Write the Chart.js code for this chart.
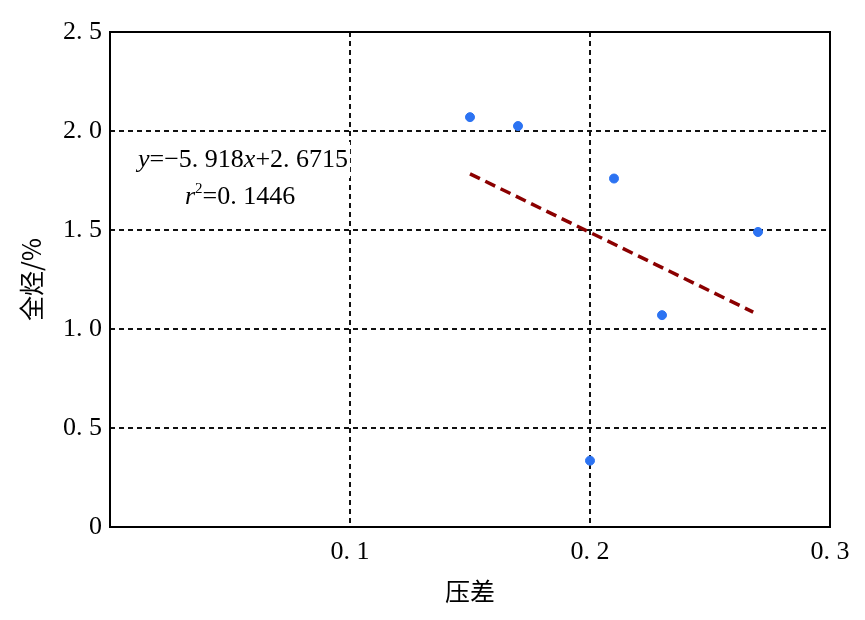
<!DOCTYPE html>
<html>
<head>
<meta charset="utf-8">
<script src="https://cdn.jsdelivr.net/npm/chart.js@4.4.1/dist/chart.umd.min.js"></script>
<style>
  html, body { margin: 0; padding: 0; background: #fff; }
  #wrap { width: 865px; height: 620px; }
</style>
</head>
<body>
<div id="wrap"><canvas id="chart" width="865" height="620"></canvas></div>
<script>
// 压差 vs 全烃 samples
const pressureDiff = [0.15, 0.17, 0.21, 0.27, 0.23, 0.20];
const totalHydrocarbon = [2.07, 2.025, 1.76, 1.49, 1.07, 0.335];
// fitted line y = -5.918x + 2.6715, drawn over the data range
const fitSlope = -5.918;
const fitIntercept = 2.6715;
const fitRange = [0.15, 0.268];
const xTicks = [0, 0.1, 0.2, 0.3];
const yTicks = [0, 0.5, 1.0, 1.5, 2.0, 2.5];

const serif = '"Liberation Serif", "DejaVu Serif", serif';
const cjk = '"Noto Sans CJK SC", sans-serif';

const scatterPoints = pressureDiff.map((x, i) => ({ x, y: totalHydrocarbon[i] }));
const fitPoints = fitRange.map((x) => ({ x, y: fitSlope * x + fitIntercept }));

const frameAndLabel = {
  id: 'frameAndLabel',
  afterDraw(chart) {
    const { ctx, chartArea: a } = chart;
    ctx.save();
    ctx.strokeStyle = '#000';
    ctx.lineWidth = 2;
    ctx.strokeRect(a.left, a.top, a.right - a.left, a.bottom - a.top);

    // equation box
    const size = 26;
    const parts = [
      ['y', true], ['=−5. 918', false], ['x', true], ['+2. 6715', false]
    ];
    ctx.textBaseline = 'middle';
    let x = 138;
    const y1 = 160;
    const widths = parts.map(([t, it]) => {
      ctx.font = (it ? 'italic ' : '') + size + 'px ' + serif;
      return ctx.measureText(t).width;
    });
    const total = widths.reduce((s, w) => s + w, 0);
    ctx.fillStyle = '#fff';
    ctx.fillRect(x - 2, y1 - 18, total + 4, 36);
    ctx.fillStyle = '#000';
    parts.forEach(([t, it], i) => {
      ctx.font = (it ? 'italic ' : '') + size + 'px ' + serif;
      ctx.fillText(t, x, y1);
      x += widths[i];
    });

    let rx = 185;
    const y2 = 197;
    ctx.font = 'italic ' + size + 'px ' + serif;
    const rW = ctx.measureText('r').width;
    ctx.font = '15px ' + serif;
    const sW = ctx.measureText('2').width;
    ctx.font = size + 'px ' + serif;
    const eW = ctx.measureText('=0. 1446').width;
    ctx.fillStyle = '#fff';
    ctx.fillRect(rx - 2, y2 - 18, rW + sW + eW + 4, 36);
    ctx.fillStyle = '#000';
    ctx.font = 'italic ' + size + 'px ' + serif;
    ctx.fillText('r', rx, y2);
    rx += rW;
    ctx.font = '15px ' + serif;
    ctx.fillText('2', rx, y2 - 8);
    rx += sW;
    ctx.font = size + 'px ' + serif;
    ctx.fillText('=0. 1446', rx, y2);
    ctx.restore();
  }
};

const gridColor = (edges) => (c) => edges.includes(c.tick.value) ? 'rgba(0,0,0,0)' : '#111';

new Chart(document.getElementById('chart'), {
  type: 'scatter',
  data: {
    datasets: [
      {
        label: '全烃',
        data: scatterPoints,
        backgroundColor: '#2c73f2',
        borderColor: '#2c73f2',
        pointRadius: 4.5,
        pointHoverRadius: 4.5
      },
      {
        type: 'line',
        label: 'fit',
        data: fitPoints,
        borderColor: '#8b0000',
        borderWidth: 3.5,
        borderDash: [11, 6],
        pointRadius: 0,
        fill: false
      }
    ]
  },
  options: {
    responsive: false,
    animation: false,
    layout: { padding: { left: 0, right: 35, top: 32, bottom: 0 } },
    plugins: {
      legend: { display: false },
      tooltip: { enabled: false }
    },
    scales: {
      x: {
        type: 'linear',
        min: 0,
        max: 0.3,
        afterBuildTicks: (s) => { s.ticks = xTicks.map((v) => ({ value: v })); },
        afterFit: (s) => { s.height = 93; },
        ticks: {
          padding: 10,
          color: '#000',
          font: { family: serif, size: 26 },
          callback: (v) => (v === 0 ? '' : v.toFixed(1).replace('.', '. '))
        },
        grid: {
          color: gridColor([0, 0.3]),
          lineWidth: 2,
          drawTicks: false
        },
        border: { display: false, dash: [5, 4] },
        title: {
          display: true,
          text: '压差',
          color: '#000',
          font: { family: cjk, size: 25 },
          padding: { top: 8, bottom: 14 }
        }
      },
      y: {
        min: 0,
        max: 2.5,
        afterBuildTicks: (s) => { s.ticks = yTicks.map((v) => ({ value: v })); },
        afterFit: (s) => { s.width = 110; },
        ticks: {
          padding: 8,
          color: '#000',
          font: { family: serif, size: 26 },
          callback: (v) => (v === 0 ? '0' : v.toFixed(1).replace('.', '. '))
        },
        grid: {
          color: gridColor([0, 2.5]),
          lineWidth: 2,
          drawTicks: false
        },
        border: { display: false, dash: [5, 4] },
        title: {
          display: true,
          text: '全烃/%',
          color: '#000',
          font: { family: cjk, size: 25 },
          padding: { top: 16, bottom: 0 }
        }
      }
    }
  },
  plugins: [frameAndLabel]
});
</script>
</body>
</html>
